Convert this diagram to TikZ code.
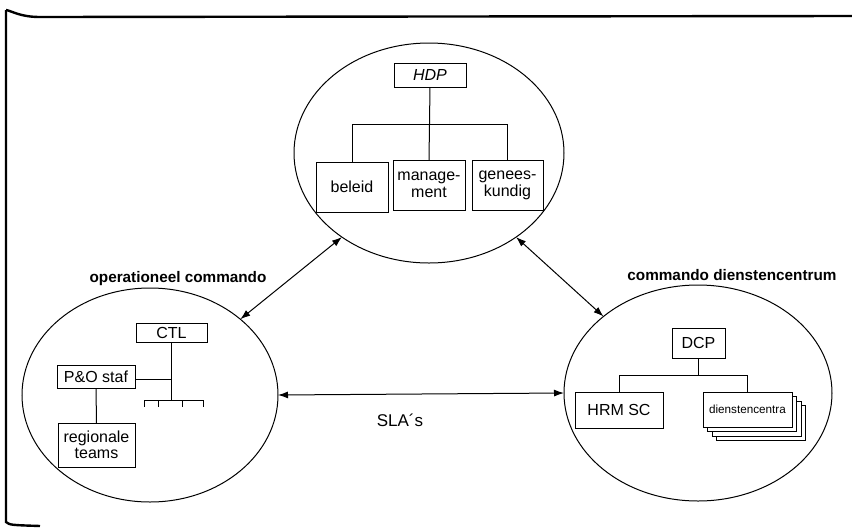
\documentclass[tikz,border=0pt]{standalone}
\usepackage{fontspec}
\setmainfont{Liberation Sans}
\usetikzlibrary{shapes.geometric,arrows.meta}
\begin{document}
\begin{tikzpicture}[x=1pt,y=-1pt,
  every node/.style={inner sep=0pt, outer sep=0pt},
  zone/.style={draw, ellipse, line width=1pt},
  box/.style={draw, fill=white, line width=1pt, align=center, font=\fontsize{16}{17}\selectfont},
  link/.style={line width=1pt},
  rel/.style={line width=1pt, {Latex[length=10pt,width=7pt]}-{Latex[length=10pt,width=7pt]}},
  title/.style={font=\fontsize{15.3}{17}\selectfont\bfseries},
  frame/.style={line width=2.4pt}]
\useasboundingbox (0,0) rectangle (852,528);
% frame
\draw[frame] (6,10) -- (6,522) .. controls (10,525) .. (40,526);
\draw[frame] (6,10) .. controls (12,11) and (20,17) .. (40,17) -- (852,16);

% zones
\node[zone, minimum width=270pt, minimum height=220pt] (top) at (429,153) {};
\node[zone, minimum width=256pt, minimum height=214pt] (left) at (150,395) {};
\node[zone, minimum width=268pt, minimum height=216pt] (right) at (698,393) {};

% top organisation
\node[box, minimum width=72pt, minimum height=24pt, font=\fontsize{16}{17}\selectfont\itshape] (hdp) at (430,75) {HDP};
\node[box, minimum width=72pt, minimum height=50pt] (beleid) at (352,187) {beleid};
\node[box, minimum width=72pt, minimum height=50pt] (mgmt) at (429,185) {manage-\\ment};
\node[box, minimum width=71pt, minimum height=50pt] (genees) at (507.5,185) {genees-\\kundig};
\coordinate (hbar) at (0,124);
\draw[link] (hdp.south) -- (mgmt.north);
\draw[link] (beleid.north) -- (beleid.north |- hbar) -- (genees.north |- hbar) -- (genees.north);

% left organisation
\node[title] (opc) at (178,279) {operationeel commando};
\node[box, minimum width=71pt, minimum height=19pt] (ctl) at (171.5,332.5) {CTL};
\node[box, minimum width=78pt, minimum height=23pt] (po) at (96,377) {P\&O staf};
\node[box, minimum width=77pt, minimum height=44pt, font=\fontsize{16}{16.5}\selectfont] (reg) at (96.5,445) {regionale\\teams};
\coordinate (cj) at (171.5,379);
\coordinate (cb) at (171.5,400);
\coordinate (t1) at (144,400);
\coordinate (t2) at (158,400);
\coordinate (t3) at (182,400);
\coordinate (t4) at (203,400);
\draw[link] (ctl.south) -- (cb);
\draw[link] (po.east |- cj) -- (cj);
\draw[link] (t1) -- (t4);
\foreach \t in {t1,t2,t3,t4} \draw[link] (\t) -- ++(0,7);
\draw[link] (po.south) -- (reg.north);

% right organisation
\node[title] (cdc) at (732,275) {commando dienstencentrum};
\node[box, minimum width=53pt, minimum height=30pt] (dcp) at (698.5,343) {DCP};
\node[box, minimum width=88pt, minimum height=36pt] (hrm) at (619,410) {HRM SC};
\foreach \k in {3,2,1}
  \draw[line width=0.9pt, fill=white] (703+4.5*\k,392+4.5*\k) rectangle ++(89,35);
\node[box, minimum width=89pt, minimum height=35pt, font=\fontsize{11.7}{13}\selectfont] (dc) at (747.5,409.5) {dienstencentra};
\coordinate (rbar) at (0,375);
\draw[link] (dcp.south) -- (dcp.south |- rbar);
\draw[link] (hrm.north) -- (hrm.north |- rbar) -- (dc.north |- rbar) -- (dc.north);

% relations
\draw[rel] (top.224) -- (left.40);
\draw[rel] (top.316) -- (right.141);
\draw[rel] (left.east) -- (right.west);
\node[font=\fontsize{17}{18}\selectfont] (sla) at (400,420) {SLA´s};
\end{tikzpicture}
\end{document}
